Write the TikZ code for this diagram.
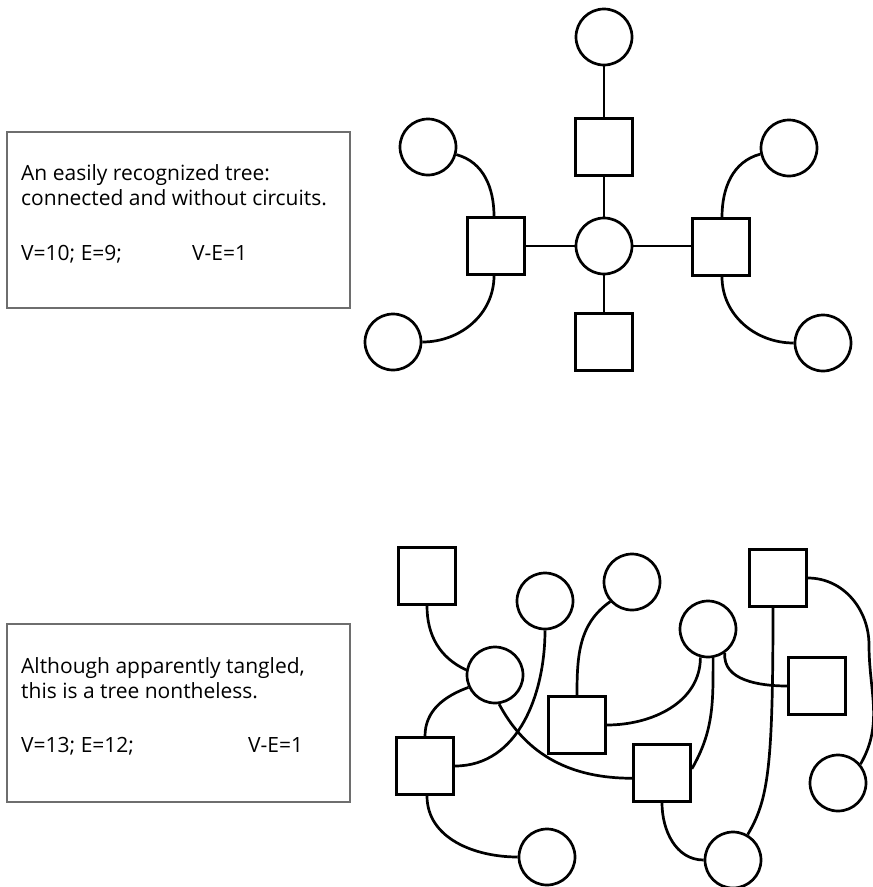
\documentclass[tikz,border=0pt]{standalone}
\usepackage{fontspec}
\setmainfont{Open Sans}
\begin{document}
\begin{tikzpicture}[x=1pt,y=1pt,
  vcirc/.style={circle,draw=black,line width=2.7pt,minimum size=56pt,inner sep=0pt,fill=white},
  vsq/.style={rectangle,draw=black,line width=2.7pt,minimum size=57pt,inner sep=0pt,fill=white},
  edge/.style={draw=black,line width=2.7pt},
  infobox/.style={draw={rgb,255:red,110;green,110;blue,110},line width=1.5pt},
  txt/.style={anchor=base west,inner sep=0pt,font=\fontsize{21}{25}\selectfont}
]
\useasboundingbox (0,0) rectangle (873,-887);

% ---------- text boxes ----------
\draw[infobox] (7,-132) rectangle (350,-308);
\node[txt] (t1a) at (21,-180) {An easily recognized tree:};
\node[txt] (t1b) at (21,-205) {connected and without circuits.};
\node[txt] (t1c) at (21,-260) {V=10; E=9;};
\node[txt] (t1d) at (192,-260) {V-E=1};

\draw[infobox] (7,-624) rectangle (350,-802);
\node[txt] (t2a) at (21,-673) {Although apparently tangled,};
\node[txt] (t2b) at (21,-698) {this is a tree nontheless.};
\node[txt] (t2c) at (21,-752) {V=13; E=12;};
\node[txt] (t2d) at (248,-752) {V-E=1};

% ---------- top tree ----------
\node[vcirc] (c0) at (604,-246) {};
\node[vsq] (sT) at (604,-147) {};
\node[vcirc] (cT) at (604,-37) {};
\node[vsq] (sB) at (604,-342) {};
\node[vsq] (sL) at (496,-246) {};
\node[vsq] (sR) at (721,-247) {};
\node[vcirc] (cTL) at (428,-147) {};
\node[vcirc] (cBL) at (393,-342) {};
\node[vcirc] (cTR) at (789,-148) {};
\node[vcirc] (cBR) at (823,-343) {};
\draw[edge] (cT) -- (sT);
\draw[edge] (sT) -- (c0);
\draw[edge] (c0) -- (sB);
\draw[edge] (sL) -- (c0);
\draw[edge] (c0.east) -- (c0.east -| sR.west);
\draw[edge] (cTL.-15) to[out=-15,in=90] ([xshift=-2pt]sL.north);
\draw[edge] ([xshift=-2pt]sL.south) to[out=-90,in=0] (cBL.east);
\draw[edge] ([xshift=1pt]sR.north) to[out=90,in=195] (cTR.192);
\draw[edge] ([xshift=1pt]sR.south) to[out=-90,in=180] (cBR.west);

% ---------- bottom tree ----------
\node[vsq] (A) at (427,-576) {};
\node[vcirc] (B) at (495,-675) {};
\node[vcirc] (C) at (545,-601) {};
\node[vsq] (D) at (425,-766) {};
\node[vsq] (E) at (577,-725) {};
\node[vcirc] (F) at (547,-857) {};
\node[vcirc] (G) at (632,-582) {};
\node[vcirc] (H) at (708,-629) {};
\node[vsq] (I) at (778,-578) {};
\node[vsq] (J) at (817,-686) {};
\node[vsq] (K) at (662,-773) {};
\node[vcirc] (L) at (838,-783) {};
\node[vcirc] (M) at (733,-860) {};
\coordinate (Ibend) at (869,-645);

\draw[edge] (A.south) to[out=-90,in=155] (B.170);
\draw[edge] (B.205) to[out=200,in=90] (D.north);
\draw[edge] (C.south) to[out=-90,in=0] (D.east);
\draw[edge] (B.-82) to[out=-62,in=180] (K.190);
\draw[edge] ([xshift=2pt]D.south) to[out=-90,in=180] (F.west);
\draw[edge] (G.222) to[out=215,in=90] (E.north);
\draw[edge] (E.east) to[out=0,in=-90] (H.255);
\draw[edge] (H.-80) to[out=-90,in=60] (K.8);
\draw[edge] (H.-55) to[out=-95,in=180] (J.west);
\draw[edge] ([xshift=-5pt]I.south) .. controls (773,-770) and (768,-800) .. (M.60);
\draw[edge] (I.east) to[out=0,in=90] (Ibend) to[out=-90,in=60] (L.40);
\draw[edge] (K.south) to[out=-90,in=180] (M.west);
\end{tikzpicture}
\end{document}
